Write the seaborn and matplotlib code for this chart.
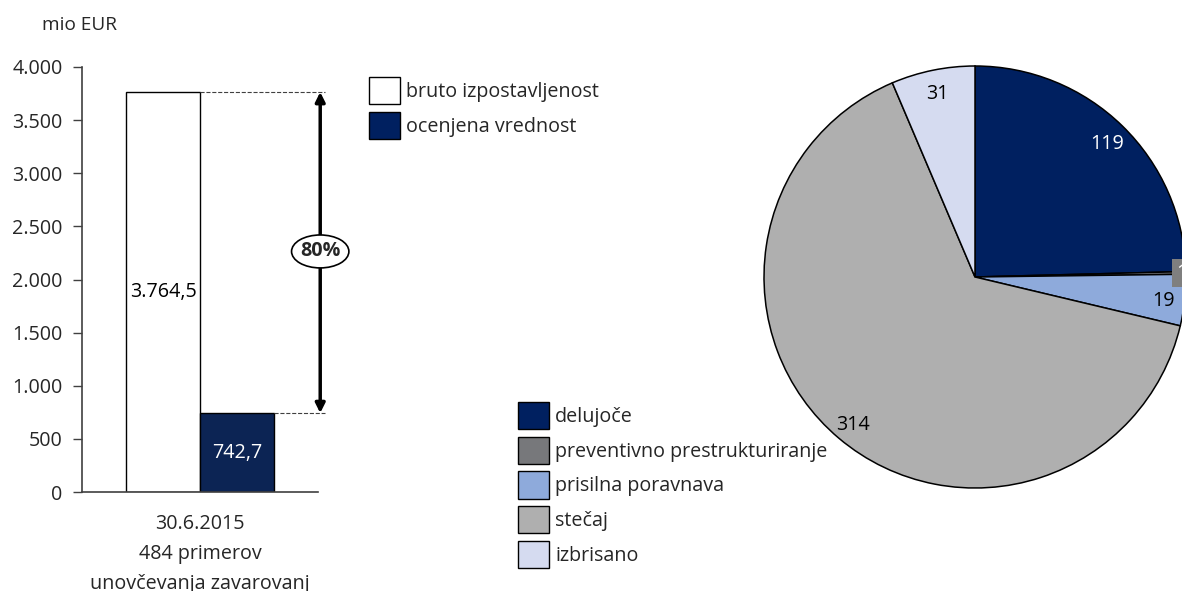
import numpy as np
import pandas as pd
import matplotlib
matplotlib.use('Agg')
import matplotlib.pyplot as plt
import seaborn as sns
from matplotlib.patches import Patch, Ellipse
from matplotlib.ticker import FuncFormatter

sns.set_style('white')
plt.rcParams['font.family'] = ['Open Sans', 'DejaVu Sans']

# bar data
bar_series = ['bruto izpostavljenost', 'ocenjena vrednost']
bar_values = [3764.5, 742.7]
bar_labels = ['3.764,5', '742,7']
bar_colors = ['#ffffff', '#002060']
category = '30.6.2015\n484 primerov\nunovčevanja zavarovanj'
ratio_label = '80%'

# pie data
pie_labels = ['delujoče', 'preventivno prestrukturiranje', 'prisilna poravnava', 'stečaj', 'izbrisano']
pie_values = [119, 1, 19, 314, 31]
pie_colors = ['#002060', '#77787b', '#8eaadb', '#afafaf', '#d5dbf0']

FS = 14.2

df = pd.DataFrame({'cat': [category] * 2, 'series': bar_series, 'value': bar_values})

fig = plt.figure(figsize=(11.82, 5.91), dpi=100)
ax = fig.add_axes([82 / 1182, 1 - 492 / 591, 236 / 1182, 425 / 591])

sns.barplot(data=df, x='cat', y='value', hue='series', palette=bar_colors,
            edgecolor='black', linewidth=1, ax=ax, legend=False, width=0.8)
ax.set_xlim(-0.638, 0.638)
ax.set_ylim(0, 4000)
ax.set_yticks(np.arange(0, 4001, 500))
ax.yaxis.set_major_formatter(FuncFormatter(lambda v, p: f'{int(v):,}'.replace(',', '.')))
ax.tick_params(axis='y', left=True, length=6.5, width=1, color='#404040', labelsize=FS, pad=7.5)
ax.tick_params(axis='x', bottom=False, labelsize=FS, pad=12)
ax.set_xlabel('')
ax.set_ylabel('')
for s in ['top', 'right']:
    ax.spines[s].set_visible(False)
for s in ['left', 'bottom']:
    ax.spines[s].set_color('#404040')
    ax.spines[s].set_linewidth(1.2)
plt.setp(ax.get_xticklabels(), linespacing=1.68)

# bar value labels
for i, b in enumerate(ax.patches[:2]):
    cx = b.get_x() + b.get_width() / 2
    ax.text(cx, b.get_height() / 2, bar_labels[i], ha='center', va='center', fontsize=FS,
            color='black' if i == 0 else 'white')

# dashed guides and arrow
b0, b1 = ax.patches[0], ax.patches[1]
x_arrow = 0.65
ax.plot([b0.get_x() + b0.get_width(), 0.675], [bar_values[0]] * 2, ls='--', lw=0.8, color='#404040', clip_on=False)
ax.plot([b1.get_x() + b1.get_width(), 0.675], [bar_values[1]] * 2, ls='--', lw=0.8, color='#404040', clip_on=False)
ax.annotate('', xy=(x_arrow, bar_values[0]), xytext=(x_arrow, bar_values[1]),
            arrowprops=dict(arrowstyle='<|-|>', lw=2.5, color='black', mutation_scale=14,
                            shrinkA=0, shrinkB=0), annotation_clip=False)
ax.add_patch(Ellipse((x_arrow, 2264), 0.31, 310, facecolor='white', edgecolor='black', lw=1.2,
                     clip_on=False, zorder=5))
ax.text(x_arrow, 2264, ratio_label, ha='center', va='center', fontsize=FS, fontweight='bold', zorder=6)

fig.text(42 / 1182, 1 - 25 / 591, 'mio EUR', ha='left', va='center', fontsize=FS - 0.5)

# bar legend
h1 = [Patch(facecolor=c, edgecolor='black', lw=1) for c in bar_colors]
fig.legend(h1, bar_series, loc='upper left', bbox_to_anchor=(361 / 1182, 1 - 69 / 591), frameon=False,
           fontsize=FS, handlelength=1.6, handleheight=1.75, handletextpad=0.3, labelspacing=0.38,
           borderaxespad=0)

# pie
pax = fig.add_axes([764 / 1182, 1 - 488 / 591, 422 / 1182, 422 / 591])
wedges, texts = pax.pie(pie_values, colors=pie_colors, startangle=90, counterclock=False,
                        wedgeprops=dict(edgecolor='black', linewidth=1.1), labels=None)
pax.set_xlim(-1, 1)
pax.set_ylim(-1, 1)
pax.set_aspect('equal')
for w in wedges:
    w.set_clip_on(False)
for i, w in enumerate(wedges):
    ang = np.deg2rad((w.theta1 + w.theta2) / 2)
    if pie_values[i] < 5:
        r = 0.98
        pax.text(r * np.cos(ang), r * np.sin(ang), str(pie_values[i]), ha='center', va='center',
                 fontsize=FS, color='white', clip_on=False,
                 bbox=dict(boxstyle='square,pad=0.2', facecolor='#7f7f7f', edgecolor='none'))
    else:
        r = 0.9
        pax.text(r * np.cos(ang), r * np.sin(ang) - 0.015, str(pie_values[i]), ha='center', va='center',
                 fontsize=FS, color='white' if i == 0 else 'black')

h2 = [Patch(facecolor=c, edgecolor='black', lw=1) for c in pie_colors]
fig.legend(h2, pie_labels, loc='upper left', bbox_to_anchor=(510 / 1182, 1 - 394 / 591), frameon=False,
           fontsize=FS, handlelength=1.6, handleheight=1.75, handletextpad=0.3, labelspacing=0.38,
           borderaxespad=0)

fig.savefig('out.png', dpi=100)
